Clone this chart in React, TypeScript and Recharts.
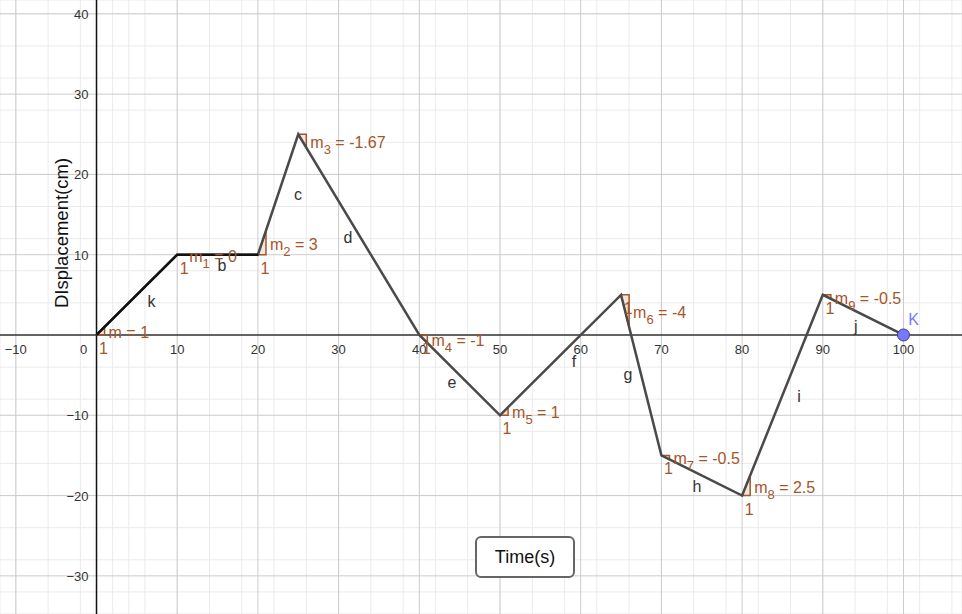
import {
  ComposedChart,
  Line,
  Area,
  XAxis,
  YAxis,
  CartesianGrid,
  ReferenceLine,
  ReferenceDot,
} from "recharts";

// path of the object: time (s) vs displacement (cm)
const times = [0, 10, 20, 25, 40, 50, 65, 70, 80, 90, 100];
const displacement = [0, 10, 10, 25, 0, -10, 5, -15, -20, 5, 0];

// segment names and slope of each segment
const segmentNames = ["k", "b", "c", "d", "e", "f", "g", "h", "i", "j"];
const slopes = [1, 0, 3, -1.67, -1, 1, -4, -0.5, 2.5, -0.5];
const slopeSubs = ["", "1", "2", "3", "4", "5", "6", "7", "8", "9"];
const slopeText = ["1", "0", "3", "-1.67", "-1", "1", "-4", "-0.5", "2.5", "-0.5"];

// where GeoGebra put the segment name labels (data units)
const nameX = [6.8, 15.55, 24.97, 31.17, 44.05, 59.17, 65.86, 74.41, 87.05, 94.1];
const nameY = [4.1, 8.6, 17.43, 12.08, -5.98, -3.36, -4.98, -18.93, -7.72, 1.0];

// axis ticks
const majorX = [-10, 0, 10, 20, 30, 40, 50, 60, 70, 80, 90, 100];
const xTickLabels = ["−10", "0", "10", "20", "30", "40", "50", "60", "70", "80", "90", "100"];
const majorY = [-30, -20, -10, 10, 20, 30, 40];
const yTickLabels = ["−30", "−20", "−10", "10", "20", "30", "40"];
const minorX = [
  -12, -10, -8, -6, -4, -2, 0, 2, 4, 6, 8, 10, 12, 14, 16, 18, 20, 22, 24, 26, 28, 30, 32, 34, 36, 38, 40,
  42, 44, 46, 48, 50, 52, 54, 56, 58, 60, 62, 64, 66, 68, 70, 72, 74, 76, 78, 80, 82, 84, 86, 88, 90, 92,
  94, 96, 98, 100, 102, 104, 106,
];
const minorY = [
  -34, -32, -30, -28, -26, -24, -22, -20, -18, -16, -14, -12, -10, -8, -6, -4, -2, 0, 2, 4, 6, 8, 10, 12,
  14, 16, 18, 20, 22, 24, 26, 28, 30, 32, 34, 36, 38, 40,
];

const X_DOMAIN: [number, number] = [-11.96, 107.25];
const Y_DOMAIN: [number, number] = [-34.75, 41.72];

const FONT = "'Liberation Sans', Arial, sans-serif";
const BROWN = "#a5552a";
const SEG = "#4a4a4a";

const path = times.map((t, i) => ({ t, d: displacement[i] }));

export default function App() {
  return (
    <div style={{ position: "relative", width: 962, height: 614, background: "#fff" }}>
      <style>{`body{margin:0}`}</style>
      <ComposedChart width={962} height={614} margin={{ top: 0, right: 0, bottom: 0, left: 0 }}>
        <XAxis dataKey="t" type="number" domain={X_DOMAIN} ticks={minorX} allowDataOverflow hide />
        <YAxis type="number" domain={Y_DOMAIN} ticks={minorY} allowDataOverflow hide />
        <CartesianGrid stroke="#ebebeb" strokeWidth={1} />
        {majorX
          .filter((v) => v !== 0)
          .map((v) => (
            <ReferenceLine key={"gx" + v} x={v} stroke="#cccccc" strokeWidth={1} />
          ))}
        {majorY.map((v) => (
          <ReferenceLine key={"gy" + v} y={v} stroke="#cccccc" strokeWidth={1} />
        ))}
        <ReferenceLine x={0} stroke="#111" strokeWidth={1.5} />
        <ReferenceLine y={0} stroke="#333" strokeWidth={1.5} />

        {/* slope triangles */}
        {slopes.map((m, i) => (
          <Area
            key={"ta" + i}
            data={[
              { t: times[i], r: [displacement[i], displacement[i]] },
              { t: times[i] + 1, r: [displacement[i], displacement[i] + m] },
            ]}
            dataKey="r"
            type="linear"
            stroke="none"
            fill={BROWN}
            fillOpacity={0.15}
            dot={false}
            activeDot={false}
            isAnimationActive={false}
          />
        ))}
        {slopes.map((m, i) => (
          <Line
            key={"tl" + i}
            data={[
              { t: times[i], v: displacement[i] },
              { t: times[i] + 1, v: displacement[i] },
              { t: times[i] + 1, v: displacement[i] + m },
              { t: times[i], v: displacement[i] },
            ]}
            dataKey="v"
            type="linear"
            stroke={BROWN}
            strokeWidth={1.5}
            dot={false}
            activeDot={false}
            isAnimationActive={false}
          />
        ))}

        <Line
          data={path}
          dataKey="d"
          type="linear"
          stroke={SEG}
          strokeWidth={2.5}
          dot={false}
          activeDot={false}
          isAnimationActive={false}
        />
        <Line
          data={path.slice(0, 3)}
          dataKey="d"
          type="linear"
          stroke="#111"
          strokeWidth={2.5}
          dot={false}
          activeDot={false}
          isAnimationActive={false}
        />

        {/* tick labels */}
        {majorX.map((v, i) => (
          <ReferenceDot
            key={"lx" + v}
            x={v}
            y={0}
            r={0}
            shape={(p: any) => (
              <text
                x={v === 0 ? p.cx - 13 : p.cx}
                y={p.cy + 19}
                textAnchor="middle"
                fontFamily={FONT}
                fontSize={13}
                fill="#333"
              >
                {xTickLabels[i]}
              </text>
            )}
          />
        ))}
        {majorY.map((v, i) => (
          <ReferenceDot
            key={"ly" + v}
            x={0}
            y={v}
            r={0}
            shape={(p: any) => (
              <text x={p.cx - 8} y={p.cy + 5} textAnchor="end" fontFamily={FONT} fontSize={13} fill="#333">
                {yTickLabels[i]}
              </text>
            )}
          />
        ))}

        {/* segment names */}
        {segmentNames.map((n, i) => (
          <ReferenceDot
            key={"n" + n}
            x={nameX[i]}
            y={nameY[i]}
            r={0}
            shape={(p: any) => (
              <text x={p.cx} y={p.cy + 5} textAnchor="middle" fontFamily={FONT} fontSize={16} fill="#333">
                {n}
              </text>
            )}
          />
        ))}

        {/* slope labels */}
        {slopes.map((m, i) => (
          <ReferenceDot
            key={"m" + i}
            x={times[i] + 1}
            y={displacement[i] + m / 2}
            r={0}
            shape={(p: any) => (
              <text x={p.cx + 4} y={p.cy + 7} fontFamily={FONT} fontSize={16} fill={BROWN}>
                m
                {slopeSubs[i] ? (
                  <tspan dy={6} fontSize={13}>
                    {slopeSubs[i]}
                  </tspan>
                ) : null}
                <tspan dy={slopeSubs[i] ? -6 : 0}>{" = " + slopeText[i]}</tspan>
              </text>
            )}
          />
        ))}
        {slopes.map((m, i) =>
          i === 3 ? null : (
            <ReferenceDot
              key={"one" + i}
              x={times[i] + 0.5}
              y={displacement[i]}
              r={0}
              shape={(p: any) => (
                <text
                  x={p.cx + 3}
                  y={p.cy + 19}
                  textAnchor="middle"
                  fontFamily={FONT}
                  fontSize={16}
                  fill={BROWN}
                >
                  1
                </text>
              )}
            />
          )
        )}

        {/* point K */}
        <ReferenceDot
          x={times[times.length - 1]}
          y={displacement[displacement.length - 1]}
          r={6}
          fill="#7878ff"
          stroke="#404080"
          strokeWidth={1}
          label={{ value: "K", position: "top", offset: 4, dx: 10, fill: "#7878ff", fontSize: 16, fontFamily: FONT }}
        />
      </ComposedChart>

      <div
        style={{
          position: "absolute",
          left: 475,
          top: 536,
          width: 96,
          height: 38,
          border: "2px solid #666",
          borderRadius: 6,
          background: "#fff",
          display: "flex",
          alignItems: "center",
          justifyContent: "center",
          fontFamily: FONT,
          fontSize: 18,
          color: "#111",
        }}
      >
        Time(s)
      </div>
      <div
        style={{
          position: "absolute",
          left: 62,
          top: 233,
          transform: "translate(-50%, -50%) rotate(-90deg)",
          whiteSpace: "nowrap",
          fontFamily: FONT,
          fontSize: 18.5,
          color: "#111",
        }}
      >
        DIsplacement(cm)
      </div>
    </div>
  );
}
